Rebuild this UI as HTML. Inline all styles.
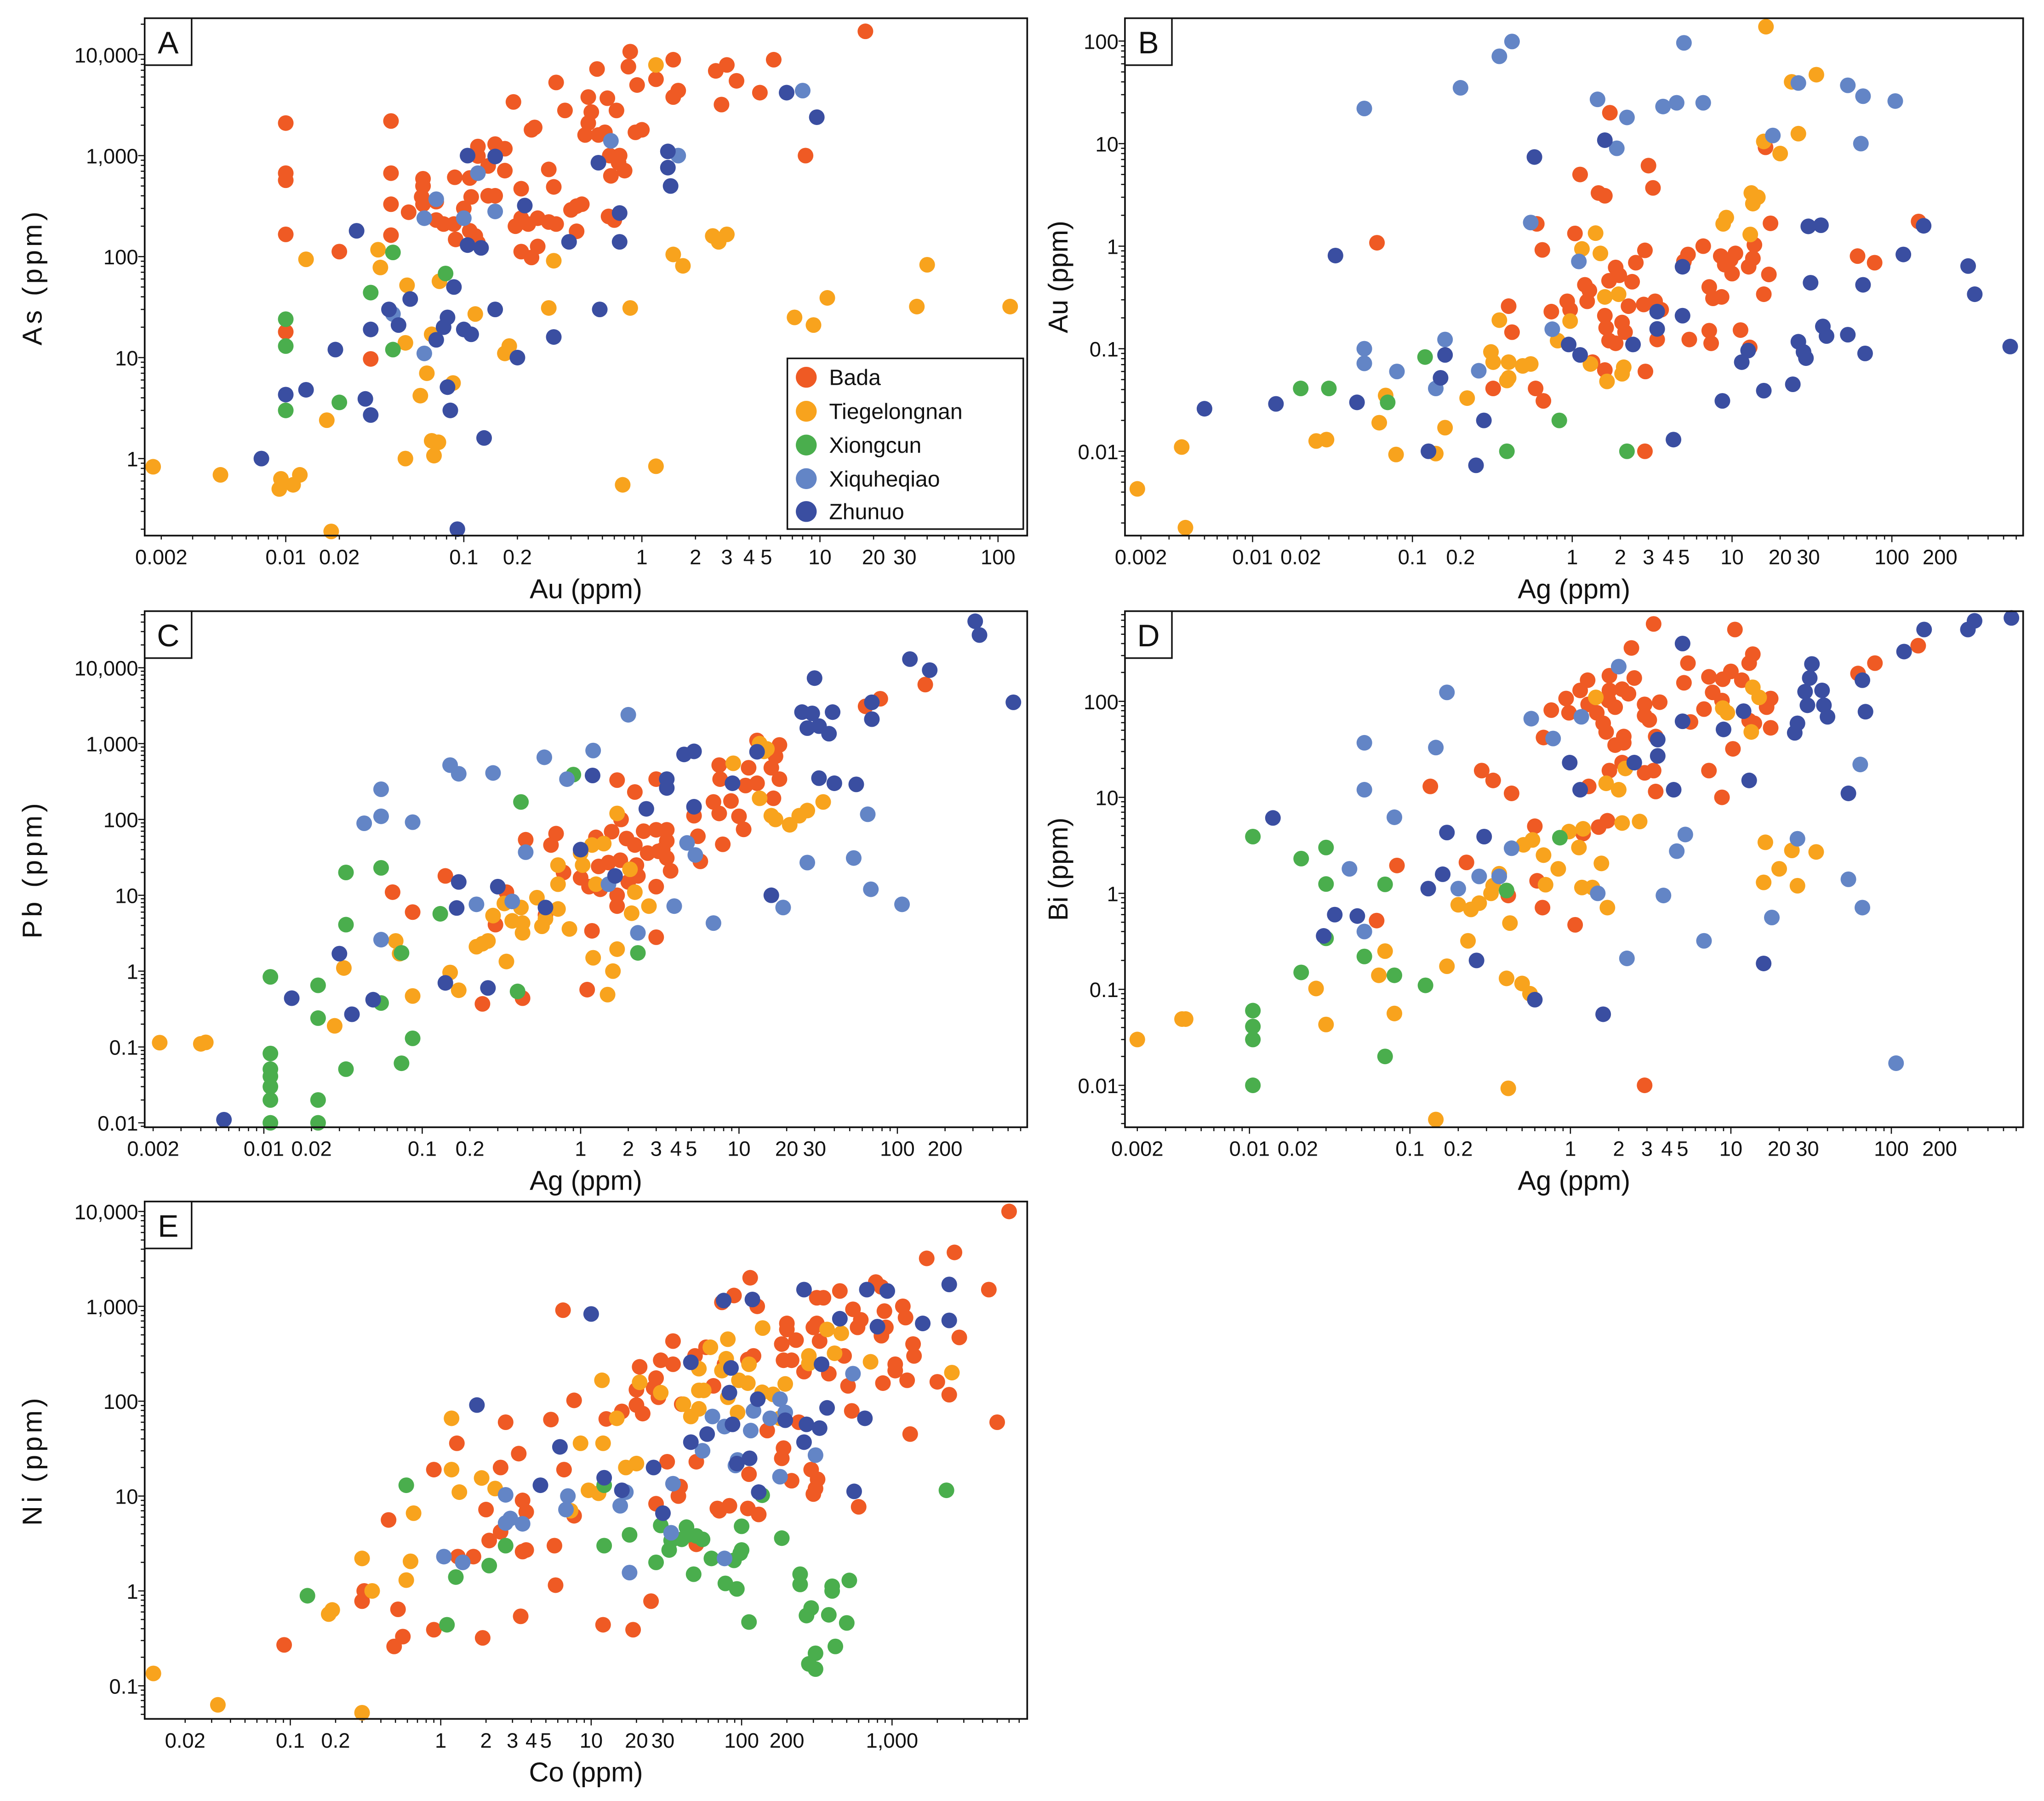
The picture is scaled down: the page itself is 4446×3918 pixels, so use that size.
<!DOCTYPE html>
<html><head><meta charset="utf-8">
<style>
html,body{margin:0;padding:0;background:#fff}
svg{display:block}
text{font-family:"Liberation Sans",sans-serif;fill:#111}
</style></head>
<body>
<svg id="fig" width="4446" height="3918" viewBox="0 0 1568 1382" preserveAspectRatio="none" xmlns="http://www.w3.org/2000/svg"></svg>
<script>
const seriesNames=["Bada","Tiegelongnan","Xiongcun","Xiquheqiao","Zhunuo"];
const seriesKeys=["bada","tiegelongnan","xiongcun","xiquheqiao","zhunuo"];
const seriesColors=["#EF5A24","#F8A31D","#4AAE4D","#6385C6","#3A4EA1"];

// ---------- Panel A: Au vs As ----------
const A_bada=[[18,17000],[0.86,10700],[1.5,8900],[3,7900],[5.5,8900],[0.56,7200],[0.84,7600],[2.6,6900],[1.2,5700],[0.33,5300],[0.94,5000],[3.4,5500],[1.6,4400],[1.5,3800],[4.6,4200],[0.5,3800],[0.64,3700],[0.19,3400],[2.8,3200],[0.37,2800],[0.52,2700],[0.72,2800],[0.039,2200],[0.01,2100],[0.5,2100],[0.25,1900],[0.24,1800],[0.62,1700],[0.48,1600],[0.92,1700],[1.0,1800],[0.57,1600],[0.12,1230],[0.15,1300],[0.17,1170],[0.12,990],[8.3,1000],[0.66,1000],[0.75,1000],[0.74,850],[0.8,710],[0.137,790],[0.17,710],[0.3,730],[0.01,670],[0.039,670],[0.67,630],[0.089,610],[0.108,600],[0.01,570],[0.059,590],[0.059,500],[0.21,470],[0.32,490],[0.11,390],[0.137,400],[0.15,400],[0.058,390],[0.039,330],[0.059,330],[0.07,350],[0.1,300],[0.46,330],[0.43,316],[0.4,290],[0.049,275],[0.07,230],[0.077,210],[0.088,210],[0.108,180],[0.116,160],[0.12,137],[0.09,148],[0.195,200],[0.21,240],[0.26,240],[0.23,210],[0.3,220],[0.33,210],[0.65,250],[0.7,230],[0.43,178],[0.039,163],[0.01,166],[0.02,112],[0.21,112],[0.26,126],[0.24,98],[0.01,18],[0.03,9.7]];
const A_tiegelongnan=[[1.2,7900],[0.013,94],[0.033,117],[0.034,78],[0.048,52],[0.073,57],[0.32,91],[1.5,105],[1.7,81],[2.5,160],[2.7,140],[3.0,166],[40,83],[11,39],[35,32],[117,32],[7.2,25],[9.2,21],[0.86,31],[0.3,31],[0.116,27],[0.066,17],[0.047,14],[0.18,13],[0.17,11],[0.062,7.0],[0.087,5.6],[0.057,4.2],[0.017,2.4],[0.066,1.5],[0.072,1.45],[0.068,1.07],[0.047,1.0],[1.2,0.84],[0.78,0.55],[0.0018,0.83],[0.0043,0.69],[0.0094,0.63],[0.0092,0.5],[0.011,0.55],[0.012,0.69],[0.018,0.19]];
const A_xiongcun=[[0.04,110],[0.079,68],[0.03,44],[0.01,24],[0.01,13],[0.04,12],[0.02,3.6],[0.01,3.0]];
const A_xiquheqiao=[[8.0,4400],[0.67,1400],[1.6,1000],[0.12,670],[0.07,370],[0.15,280],[0.06,240],[0.1,240],[0.04,27],[0.06,11]];
const A_zhunuo=[[6.5,4200],[9.6,2400],[0.105,1000],[0.15,980],[1.4,1100],[0.57,850],[1.4,760],[1.45,500],[0.22,320],[0.75,270],[0.39,140],[0.75,140],[0.105,130],[0.125,122],[0.025,180],[0.088,50],[0.05,38],[0.15,30],[0.58,30],[0.038,30],[0.043,21],[0.03,19],[0.081,25],[0.077,20],[0.1,19],[0.11,17],[0.32,16],[0.07,15],[0.019,12],[0.2,10],[0.01,4.3],[0.013,4.8],[0.028,3.9],[0.03,2.7],[0.081,5.1],[0.084,3.0],[0.13,1.6],[0.0073,1.0],[0.092,0.2]];

// ---------- Panel B: Ag vs Au ----------
const B_bada=[[0.06,1.08],[0.6,1.65],[0.65,0.92],[1.12,5.0],[1.04,1.33],[1.46,3.3],[1.6,3.1],[1.72,20],[3.0,6.1],[3.2,3.7],[0.4,0.26],[0.42,0.145],[0.32,0.041],[0.59,0.041],[0.66,0.031],[0.74,0.23],[0.93,0.29],[0.97,0.24],[1.2,0.42],[1.28,0.37],[1.24,0.29],[1.34,0.074],[1.6,0.062],[1.6,0.21],[1.63,0.16],[1.7,0.12],[1.87,0.62],[1.97,0.52],[1.7,0.46],[2.37,0.45],[1.87,0.113],[2.05,0.18],[2.14,0.145],[2.25,0.26],[2.5,0.69],[2.85,0.91],[2.8,0.27],[3.3,0.29],[3.6,0.24],[3.4,0.123],[2.87,0.06],[2.85,0.01],[5.0,0.71],[5.3,0.83],[6.6,1.0],[5.4,0.123],[7.2,0.4],[7.6,0.31],[7.2,0.15],[7.4,0.113],[8.6,0.32],[8.5,0.8],[9.0,0.66],[10,0.54],[10.5,0.85],[9.8,0.74],[12.7,0.63],[13.5,0.76],[13.8,1.03],[11.3,0.152],[12.9,0.103],[15.8,0.34],[16.2,9.2],[17,0.53],[17.4,1.67],[61,0.8],[78,0.69],[147,1.74]];
const B_tiegelongnan=[[0.0019,0.0043],[0.0036,0.011],[0.0038,0.0018],[0.025,0.0126],[0.029,0.013],[0.062,0.019],[0.068,0.035],[0.079,0.0093],[0.14,0.0095],[0.16,0.017],[0.22,0.033],[0.31,0.093],[0.32,0.074],[0.35,0.19],[0.39,0.049],[0.4,0.074],[0.49,0.068],[0.55,0.071],[0.4,0.052],[0.81,0.12],[0.97,0.186],[1.15,0.94],[1.4,1.34],[1.5,0.85],[1.3,0.071],[1.65,0.048],[1.6,0.32],[1.95,0.34],[2.05,0.057],[2.1,0.066],[8.8,1.65],[9.2,1.9],[13,1.3],[13.2,3.3],[14.5,3.0],[13.5,2.6],[15.8,10.5],[16.3,138],[20,8.0],[23.6,40],[26,12.5],[33.7,47]];
const B_xiongcun=[[0.02,0.041],[0.03,0.041],[0.07,0.03],[0.12,0.083],[0.39,0.01],[0.83,0.02],[2.2,0.01]];
const B_xiquheqiao=[[0.05,22],[0.2,35],[0.35,71],[0.42,99],[5.0,96],[1.44,27],[2.2,18],[3.7,23],[4.5,25],[6.6,25],[1.9,9.0],[26,39],[53,37],[66,29],[105,26],[18,12],[64,10],[0.55,1.7],[1.1,0.71],[0.75,0.155],[0.05,0.1],[0.05,0.072],[0.08,0.06],[0.16,0.123],[0.26,0.061],[0.14,0.041]];
const B_zhunuo=[[0.033,0.81],[0.005,0.026],[0.014,0.029],[0.045,0.03],[0.126,0.01],[0.15,0.052],[0.16,0.087],[0.25,0.0073],[0.28,0.02],[0.58,7.4],[1.6,10.8],[0.95,0.11],[1.12,0.087],[2.4,0.11],[3.4,0.23],[3.4,0.156],[4.9,0.63],[4.9,0.21],[4.3,0.013],[8.7,0.031],[11.5,0.074],[12.6,0.096],[15.8,0.039],[24,0.045],[26,0.117],[28,0.093],[29,0.081],[30,1.56],[36,1.6],[31,0.44],[37,0.165],[39,0.133],[53,0.137],[66,0.42],[68,0.09],[118,0.83],[158,1.58],[300,0.64],[330,0.34],[550,0.105]];

// ---------- Panel C: Ag vs Pb ----------
const C_bada=[[150,6000],[78,3900],[63,3100],[13,1100],[18,960],[17,680],[16,480],[7.5,520],[7.6,340],[11.5,480],[11,280],[13,300],[18,340],[16.5,190],[6.9,170],[8.9,175],[7.5,120],[10,110],[10.7,74],[5.2,112],[5.5,60],[7.9,47],[5.7,28],[3.0,340],[1.7,330],[2.2,230],[1.8,100],[3.0,73],[2.5,70],[3.5,73],[3.5,52],[3.3,40],[3.5,31],[3.7,21],[3.1,38],[2.65,36],[1.95,56],[1.57,69],[2.2,46],[1.25,58],[0.7,65],[0.65,46],[1.78,29],[1.3,24],[1.5,27],[2.25,25],[1.0,17],[1.13,13],[1.33,12],[1.7,10],[1.7,7.2],[0.78,20],[3.0,13],[2.0,15],[2.3,18],[0.45,54],[0.14,18],[0.065,11],[0.087,6.0],[0.34,11],[0.29,4.1],[0.6,5.5],[1.18,3.4],[3.0,2.8],[1.1,0.57],[0.24,0.37],[0.43,0.44]];
const C_tiegelongnan=[[0.0022,0.114],[0.004,0.11],[0.0043,0.115],[0.032,1.1],[0.028,0.19],[0.068,2.5],[0.072,1.7],[0.087,0.47],[0.15,0.96],[0.17,0.56],[0.22,2.1],[0.24,2.3],[0.26,2.5],[0.34,1.34],[0.28,5.4],[0.33,7.8],[0.42,6.9],[0.37,4.6],[0.43,4.3],[0.43,3.2],[0.53,9.3],[0.57,3.9],[0.6,4.9],[0.72,6.6],[0.85,3.6],[0.72,25],[0.72,14],[1.03,25],[1.0,36],[1.18,46],[1.4,48],[1.7,120],[1.25,14],[2.05,22],[2.2,11],[2.1,5.8],[2.7,7.2],[1.2,1.5],[1.7,1.95],[1.6,1.0],[1.48,0.49],[9.2,550],[13.5,1000],[14.4,790],[15,850],[13.5,190],[16,112],[17,100],[20.9,85],[24,112],[27,131],[34,170]];
const C_xiongcun=[[0.9,390],[0.42,170],[0.033,20],[0.055,23],[0.033,4.1],[0.13,5.7],[0.074,1.74],[2.3,1.74],[0.4,0.54],[0.055,0.38],[0.011,0.84],[0.022,0.65],[0.022,0.24],[0.087,0.13],[0.074,0.061],[0.033,0.051],[0.011,0.082],[0.011,0.051],[0.011,0.041],[0.011,0.03],[0.011,0.02],[0.022,0.02],[0.011,0.01],[0.022,0.01]];
const C_xiquheqiao=[[2.0,2400],[1.2,810],[0.59,660],[0.15,520],[0.17,400],[0.28,410],[0.82,340],[0.055,250],[0.055,110],[0.043,89],[0.087,92],[0.45,37],[4.7,49],[5.3,34],[65,117],[27,27],[53,31],[68,12],[107,7.6],[19,6.9],[3.9,7.2],[6.9,4.3],[2.3,3.2],[1.5,14],[0.37,8.3],[0.22,7.6],[0.055,2.6]];
const C_zhunuo=[[310,41000],[330,27000],[120,13000],[160,9300],[540,3500],[30,7300],[25,2600],[29,2500],[39,2600],[27,1600],[32,1700],[37,1350],[69,3500],[69,2100],[4.5,720],[5.2,790],[13,780],[32,350],[40,300],[55,290],[1.19,380],[3.5,340],[3.5,260],[9.1,300],[2.6,138],[5.2,147],[1.0,40],[0.17,15],[0.165,6.8],[0.3,13],[0.6,6.9],[1.65,18],[16,10],[0.03,1.7],[0.14,0.7],[0.26,0.6],[0.015,0.44],[0.049,0.42],[0.036,0.27],[0.0056,0.011]];

// ---------- Panel D: Ag vs Bi ----------
const D_bada=[[3.3,640],[10.6,560],[2.4,360],[13.7,310],[13,250],[5.4,250],[5.1,156],[2.5,175],[1.75,185],[1.28,166],[1.15,130],[0.94,107],[0.98,76],[0.76,81],[1.29,93],[1.46,76],[1.75,130],[1.73,102],[1.9,87],[2.1,134],[2.3,120],[2.9,93],[3.6,98],[2.9,71],[3.1,64],[1.6,59],[1.67,48],[2.15,43],[2.15,37],[1.9,35],[3.4,43],[0.68,42],[7.3,180],[8.9,170],[10,205],[11.7,166],[7.7,124],[8.8,102],[17.7,107],[16.7,87],[6.8,83],[5.6,61],[13,63],[14,59],[17.7,53],[10.3,32],[7.3,19],[8.8,10],[3.4,11.5],[2.9,18],[3.3,19],[2.1,23],[1.75,19],[1.3,13],[1.5,4.9],[1.7,5.7],[0.6,5.0],[1.2,4.2],[62,195],[79,250],[147,380],[0.28,19],[0.33,15],[0.43,11],[0.134,13],[0.225,2.1],[0.083,1.95],[0.062,0.52],[0.41,0.95],[0.62,1.35],[0.67,0.71],[1.07,0.47],[2.9,0.01]];
const D_tiegelongnan=[[0.002,0.03],[0.0038,0.049],[0.004,0.049],[0.026,0.102],[0.03,0.043],[0.064,0.14],[0.07,0.25],[0.08,0.056],[0.17,0.174],[0.145,0.0044],[0.23,0.32],[0.2,0.76],[0.24,0.68],[0.27,0.79],[0.32,1.0],[0.36,1.6],[0.33,1.2],[0.4,0.13],[0.5,0.115],[0.56,0.09],[0.42,0.49],[0.41,0.0093],[0.51,3.2],[0.58,3.6],[0.68,2.5],[0.7,1.23],[0.84,1.8],[0.98,4.4],[1.2,4.7],[1.13,3.0],[1.18,1.15],[1.37,1.15],[1.7,0.71],[1.56,2.05],[1.67,14],[2.0,12],[2.2,20],[2.1,5.4],[2.7,5.6],[1.44,110],[8.9,85],[9.5,76],[13.4,48],[13.7,140],[15,110],[16.4,3.4],[20,1.8],[16,1.3],[24,2.8],[26,1.2],[34,2.7]];
const D_xiongcun=[[0.0105,3.9],[0.021,2.3],[0.03,3.0],[0.03,1.25],[0.07,1.24],[0.4,1.07],[0.86,3.8],[0.03,0.34],[0.052,0.22],[0.021,0.15],[0.08,0.14],[0.125,0.11],[0.0105,0.06],[0.0105,0.041],[0.0105,0.03],[0.07,0.02],[0.0105,0.01]];
const D_xiquheqiao=[[2.0,230],[0.17,124],[0.57,66],[1.17,69],[0.78,41],[0.052,37],[0.145,33],[0.052,12],[0.08,6.2],[0.43,2.95],[0.042,1.8],[0.052,0.4],[0.2,1.12],[0.27,1.5],[0.36,1.5],[1.48,1.0],[3.8,0.95],[4.6,2.75],[5.2,4.1],[2.25,0.21],[6.8,0.32],[18,0.56],[26,3.7],[54,1.4],[66,0.71],[64,22],[107,0.017]];
const D_zhunuo=[[560,740],[330,690],[300,560],[160,560],[120,330],[66,166],[69,78],[32,245],[31,175],[29,126],[30,91],[37,130],[38,91],[40,69],[26,59],[25,47],[12,79],[9,51],[5.0,400],[5.0,62],[3.5,40],[3.5,27],[2.5,23],[4.4,12],[13,15],[54,11],[0.99,23],[1.15,12],[0.014,6.1],[0.17,4.3],[0.29,3.9],[0.16,1.58],[0.13,1.12],[0.034,0.6],[0.047,0.58],[0.029,0.36],[0.26,0.2],[0.6,0.078],[1.6,0.055],[16,0.186]];

// ---------- Panel E: Co vs Ni ----------
const E_bada=[[6000,10000],[2600,3700],[1700,3200],[4400,1500],[114,2000],[74,1100],[89,1300],[127,1000],[316,1230],[350,1230],[450,1450],[550,930],[780,1800],[850,1600],[890,890],[1180,1000],[1230,760],[910,600],[850,490],[620,720],[590,600],[1380,400],[1400,300],[2800,470],[1050,245],[1050,210],[2000,160],[2400,117],[1260,166],[870,155],[510,145],[540,79],[5000,60],[1320,45],[600,7.7],[316,660],[300,600],[330,430],[200,660],[200,570],[230,440],[185,400],[190,270],[215,270],[260,205],[380,195],[480,300],[120,300],[110,275],[77,245],[58,370],[49,300],[35,430],[29,270],[35,245],[21,230],[27,175],[26,138],[20,132],[28,110],[65,145],[40,93],[50,23],[32,23],[148,49],[240,60],[190,32],[185,25],[112,17],[290,19],[320,15],[310,12],[300,10.5],[215,14.5],[39,12.6],[38,10],[27,8.3],[71,7.0],[83,7.9],[110,7.4],[130,6.4],[50,3.1],[7.7,102],[6.5,910],[16,78],[12.6,65],[20,91],[22,74],[5.4,64],[2.7,60],[3.3,28],[2.5,20],[6.6,19],[1.28,36],[0.9,19],[2.0,7.2],[3.5,9.0],[3.7,6.8],[7.7,6.2],[2.1,3.4],[2.5,4.2],[3.5,2.6],[3.7,2.7],[1.65,2.3],[1.3,2.3],[5.7,3.0],[5.8,1.15],[0.45,5.6],[0.31,1.0],[0.3,0.78],[0.52,0.64],[0.56,0.33],[0.49,0.26],[0.9,0.39],[1.9,0.32],[3.4,0.54],[12,0.44],[19,0.39],[25,0.78],[0.091,0.27],[69,7.4]];
const E_tiegelongnan=[[0.0123,0.135],[0.033,0.063],[0.3,0.052],[0.3,2.2],[0.63,2.05],[0.59,1.3],[0.35,1.0],[0.18,0.57],[0.19,0.63],[0.66,6.6],[1.18,66],[1.18,19],[1.33,11],[1.87,15.5],[2.3,12],[8.5,36],[12,36],[11.8,166],[14.8,66],[17,20],[20,22],[9.6,11.5],[11.2,10.7],[7.3,7.0],[21,158],[29,123],[52,220],[62,370],[81,450],[79,280],[74,210],[52,130],[56,130],[41,93],[46,69],[52,83],[81,110],[96,166],[110,155],[94,76],[112,245],[138,590],[137,124],[162,118],[195,152],[180,66],[280,300],[280,250],[370,570],[460,520],[415,320],[720,260],[2500,200]];
const E_xiongcun=[[2300,11.5],[0.13,0.89],[0.59,13],[1.1,0.44],[1.26,1.4],[2.1,1.85],[2.7,3.0],[12.2,13],[12.2,3.0],[18,3.9],[27,2.0],[29,4.9],[34,3.4],[33,2.7],[43,4.7],[44,3.9],[50,3.8],[55,3.5],[40,3.5],[63,2.2],[89,2.1],[98,2.5],[100,2.7],[100,4.8],[137,10.2],[185,3.6],[48,1.5],[78,1.2],[93,1.05],[112,0.47],[245,1.5],[245,1.17],[400,1.12],[400,1.0],[520,1.29],[290,0.66],[270,0.55],[380,0.56],[500,0.46],[420,0.26],[310,0.22],[280,0.17],[310,0.15]];
const E_xiquheqiao=[[550,195],[180,105],[195,76],[155,66],[120,79],[115,49],[64,69],[77,54],[55,30],[94,24],[91,21],[310,27],[180,16],[35,13.5],[17,11],[15.6,7.9],[7,10],[6.8,7.2],[2.7,10.3],[2.9,5.8],[2.7,5.2],[3.5,5.1],[1.05,2.3],[1.4,2.0],[18,1.56],[34,4.1],[77,2.2]];
const E_zhunuo=[[2400,1700],[2400,710],[1600,660],[930,1450],[680,1500],[260,1500],[450,740],[800,610],[340,245],[370,85],[660,66],[330,52],[270,57],[260,37],[560,11.2],[118,1180],[76,1150],[128,105],[83,123],[87,57],[59,45],[46,37],[113,25],[93,22],[46,257],[85,224],[195,63],[10,830],[1.74,91],[6.2,33],[4.6,13],[12.2,15.6],[16,11.5],[26,20],[30,6.6],[130,11]];

// ---------- tick labels ----------
const A_xTicks=[0.002,0.01,0.02,0.1,0.2,1,2,3,4,5,10,20,30,100];
const A_xLabels=["0.002","0.01","0.02","0.1","0.2","1","2","3","4","5","10","20","30","100"];
const A_yTicks=[1,10,100,1000,10000];
const A_yLabels=["1","10","100","1,000","10,000"];
const AG_xTicks=[0.002,0.01,0.02,0.1,0.2,1,2,3,4,5,10,20,30,100,200];
const AG_xLabels=["0.002","0.01","0.02","0.1","0.2","1","2","3","4","5","10","20","30","100","200"];
const B_yTicks=[0.01,0.1,1,10,100];
const B_yLabels=["0.01","0.1","1","10","100"];
const C_yTicks=[0.01,0.1,1,10,100,1000,10000];
const C_yLabels=["0.01","0.1","1","10","100","1,000","10,000"];
const D_yTicks=[0.01,0.1,1,10,100];
const D_yLabels=["0.01","0.1","1","10","100"];
const E_xTicks=[0.02,0.1,0.2,1,2,3,4,5,10,20,30,100,200,1000];
const E_xLabels=["0.02","0.1","0.2","1","2","3","4","5","10","20","30","100","200","1,000"];
const E_yTicks=[0.1,1,10,100,1000,10000];
const E_yLabels=["0.1","1","10","100","1,000","10,000"];

const NS="http://www.w3.org/2000/svg";
const svg=document.getElementById('fig');
function mk(tag,attrs,parent){const e=document.createElementNS(NS,tag);for(const k in attrs)e.setAttribute(k,attrs[k]);(parent||svg).appendChild(e);return e;}

const panels=[
 {id:'a',letter:'A',frame:[111,14,788,411],x0:492.4,dx:136.6,y0:351.9,dy:77.5,xt:A_xTicks,xl:A_xLabels,yt:A_yTicks,yl:A_yLabels,xTitle:'Au (ppm)',yTitle:'As (ppm)',ytx:25,data:[A_bada,A_tiegelongnan,A_xiongcun,A_xiquheqiao,A_zhunuo]},
 {id:'b',letter:'B',frame:[863,14,1552,411],x0:1206.1,dx:122.6,y0:188.9,dy:78.7,xt:AG_xTicks,xl:AG_xLabels,yt:B_yTicks,yl:B_yLabels,xTitle:'Ag (ppm)',yTitle:'Au (ppm)',ytx:812,data:[B_bada,B_tiegelongnan,B_xiongcun,B_xiquheqiao,B_zhunuo]},
 {id:'c',letter:'C',frame:[111,469,788,865],x0:445.4,dx:121.5,y0:745.2,dy:58.2,xt:AG_xTicks,xl:AG_xLabels,yt:C_yTicks,yl:C_yLabels,xTitle:'Ag (ppm)',yTitle:'Pb (ppm)',ytx:25,data:[C_bada,C_tiegelongnan,C_xiongcun,C_xiquheqiao,C_zhunuo]},
 {id:'d',letter:'D',frame:[863,469,1552,865],x0:1204.7,dx:123.1,y0:685.5,dy:73.66,xt:AG_xTicks,xl:AG_xLabels,yt:D_yTicks,yl:D_yLabels,xTitle:'Ag (ppm)',yTitle:'Bi (ppm)',ytx:812,data:[D_bada,D_tiegelongnan,D_xiongcun,D_xiquheqiao,D_zhunuo]},
 {id:'e',letter:'E',frame:[111,922,788,1319],x0:338.1,dx:115.4,y0:1220.8,dy:72.8,xt:E_xTicks,xl:E_xLabels,yt:E_yTicks,yl:E_yLabels,xTitle:'Co (ppm)',yTitle:'Ni (ppm)',ytx:25,data:[E_bada,E_tiegelongnan,E_xiongcun,E_xiquheqiao,E_zhunuo]}
];

panels.forEach(p=>{
  const [L,T,R,B]=p.frame;
  const X=v=>p.x0+p.dx*Math.log10(v);
  const Y=v=>p.y0-p.dy*Math.log10(v);
  const g=mk('g',{});
  
  
  const bg=mk('rect',{x:L,y:T,width:R-L,height:B-T,fill:'#fff',stroke:'none'},g);
  
  
  // minor and major ticks
  const xlo=(L-p.x0)/p.dx, xhi=(R-p.x0)/p.dx;
  const ylo=(p.y0-B)/p.dy, yhi=(p.y0-T)/p.dy;
  const tg=mk('g',{stroke:'#111','stroke-width':0.9},g);
  
  
  for(let d=Math.floor(xlo);d<=Math.ceil(xhi);d++){for(let m=1;m<10;m++){const lv=d+Math.log10(m);if(lv<xlo||lv>xhi)continue;const px=p.x0+p.dx*lv;const len=m===1?5:3;mk('line',{x1:px,y1:B,x2:px,y2:B+len},tg);}}
  for(let d=Math.floor(ylo);d<=Math.ceil(yhi);d++){for(let m=1;m<10;m++){const lv=d+Math.log10(m);if(lv<ylo||lv>yhi)continue;const py=p.y0-p.dy*lv;const len=m===1?5:3;mk('line',{x1:L,y1:py,x2:L-len,y2:py},tg);}}
  // tick labels
  p.xt.forEach((v,i)=>{const t=mk('text',{x:X(v),y:B+22,'font-size':16,'text-anchor':'middle'},g);t.textContent=p.xl[i];
    
    });
  p.yt.forEach((v,i)=>{const t=mk('text',{x:L-5,y:Y(v)+6,'font-size':16,'text-anchor':'end'},g);t.textContent=p.yl[i];
    
    });
  // axis titles
  const xt=mk('text',{x:(L+R)/2,y:B+48,'font-size':21,'text-anchor':'middle'},g);xt.textContent=p.xTitle;
  
  
  const cy=(T+B)/2;
  const yt=mk('text',{x:p.ytx,y:cy,'font-size':21,'text-anchor':'middle','letter-spacing':p.ytx<100?2.5:0,transform:'rotate(-90 '+p.ytx+' '+cy+') translate(0 7)'},g);yt.textContent=p.yTitle;
  
  
  // points
  p.data.forEach((arr,si)=>{
    const sg=mk('g',{fill:seriesColors[si]},g);
    
    
    arr.forEach(([xv,yv])=>{
      const c=mk('circle',{cx:X(xv),cy:Y(yv),r:6},sg);
      
      
    });
  });
  // frame
  const fr=mk('rect',{x:L,y:T,width:R-L,height:B-T,fill:'none',stroke:'#111','stroke-width':1.3},g);
  
  
  // letter box
  const lb=mk('rect',{x:L,y:T,width:36,height:36,fill:'#fff',stroke:'#111','stroke-width':1.2},g);
  
  
  const lt=mk('text',{x:L+18,y:T+27,'font-size':24,'text-anchor':'middle'},g);lt.textContent=p.letter;
  
  
});

// legend (panel A)
const lg=mk('g',{});


const lr=mk('rect',{x:604,y:275,width:181,height:131,fill:'#fff',stroke:'#111','stroke-width':1.2},lg);


const legendY=[289.5,315.6,341.5,367.3,392.5];
seriesNames.forEach((n,i)=>{
  const c=mk('circle',{cx:618.5,cy:legendY[i],r:8,fill:seriesColors[i]},lg);
  
  
  const t=mk('text',{x:636,y:legendY[i]+6,'font-size':17},lg);t.textContent=n;
  
  
});
</script>
</body></html>
